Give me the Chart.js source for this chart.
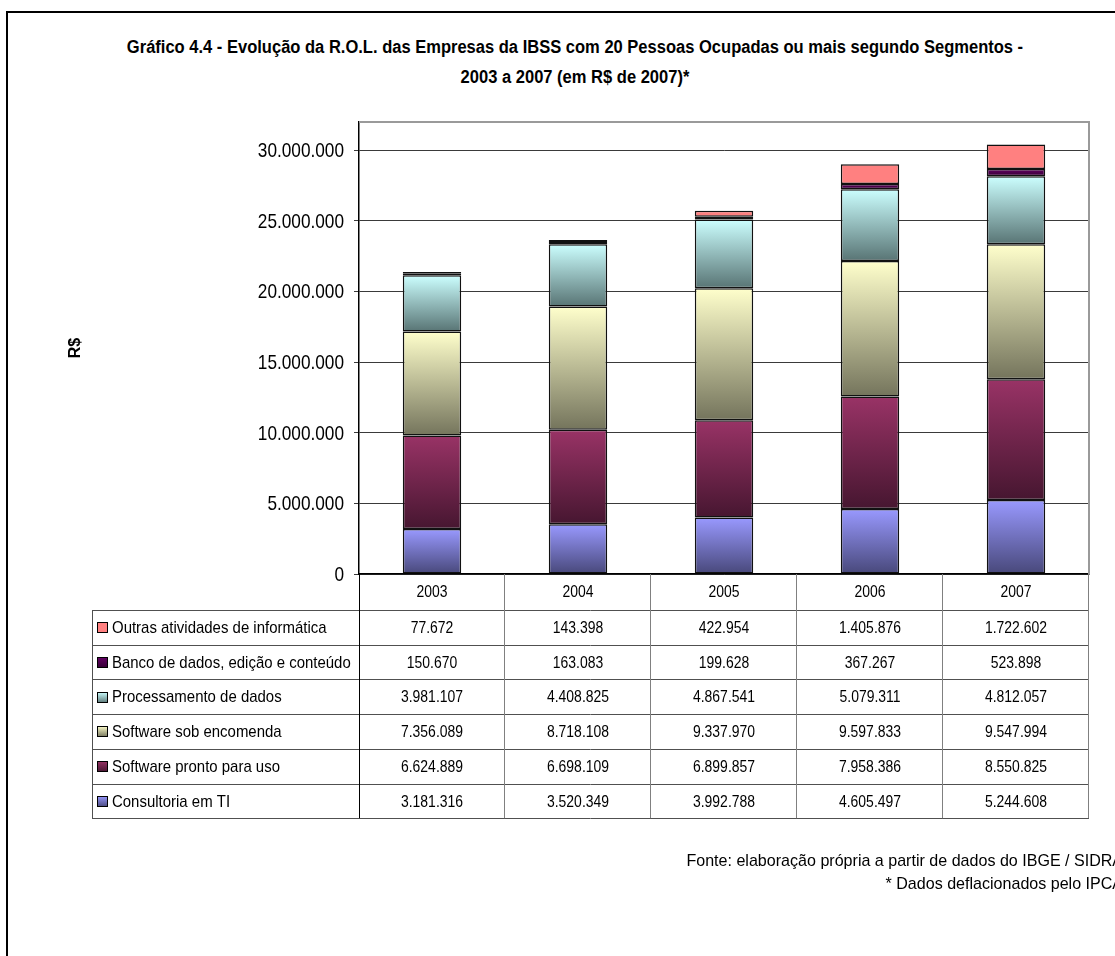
<!DOCTYPE html>
<html>
<head>
<meta charset="utf-8">
<script src="https://cdn.jsdelivr.net/npm/chart.js@4.4.0/dist/chart.umd.min.js"></script>
<style>
  html, body { margin: 0; padding: 0; width: 1115px; height: 956px; overflow: hidden; background: #fff; }
  #frame { position: absolute; left: 6px; top: 11px; width: 1200px; height: 1100px; border: 2px solid #000; }
  #title { position: absolute; left: 0; top: 32px; width: 1150px; text-align: center;
    transform: scaleX(0.918); transform-origin: 575px 0;
    font: bold 18px/30px 'Liberation Sans', Arial, sans-serif; color: #000; }
  #fonte { position: absolute; right: -8px; top: 849px; text-align: right; white-space: nowrap;
    transform: scaleX(0.945); transform-origin: 100% 0;
    font: 17px/23px 'Liberation Sans', Arial, sans-serif; color: #000; }
  canvas { position: absolute; left: 0; top: 0; }
</style>
</head>
<body>
<div id="frame"></div>
<div id="title">Gráfico 4.4 - Evolução da R.O.L. das Empresas da IBSS com 20 Pessoas Ocupadas ou mais segundo Segmentos -<br>2003 a 2007 (em R$ de 2007)*</div>
<canvas id="chart" width="1115" height="956"></canvas>
<div id="fonte">Fonte: elaboração própria a partir de dados do IBGE / SIDRA<br>* Dados deflacionados pelo IPCA</div>
<script>
const years = ['2003', '2004', '2005', '2006', '2007'];
const consultoria = [3181316, 3520349, 3992788, 4605497, 5244608];
const prontoUso = [6624889, 6698109, 6899857, 7958386, 8550825];
const sobEncomenda = [7356089, 8718108, 9337970, 9597833, 9547994];
const processamento = [3981107, 4408825, 4867541, 5079311, 4812057];
const bancoDados = [150670, 163083, 199628, 367267, 523898];
const outras = [77672, 143398, 422954, 1405876, 1722602];
const yTicks = [0, 5000000, 10000000, 15000000, 20000000, 25000000, 30000000];

const FONT = "'Liberation Sans', Arial, sans-serif";
const NARROW = 0.82; // no Arial Narrow here, squeeze the regular face

function fmt(n) {
  return String(n).replace(/\B(?=(\d{3})+(?!\d))/g, '.');
}

function narrowText(ctx, text, x, y, align, sx) {
  ctx.save();
  ctx.translate(x, y);
  ctx.scale(sx || NARROW, 1);
  ctx.textAlign = align;
  ctx.fillText(text, 0, 0);
  ctx.restore();
}

// vertical gradient, light on top, dark at the bottom (like the old Excel fills)
function grad(top, bottom) {
  return function(ctx) {
    const chart = ctx.chart;
    const ys = chart.scales.y;
    if (ctx.type !== 'data' || !ys || !chart.chartArea) return top;
    const i = ctx.dataIndex, d = ctx.datasetIndex;
    let start = 0;
    for (let k = 0; k < d; k++) start += chart.data.datasets[k].data[i];
    const end = start + chart.data.datasets[d].data[i];
    const y0 = ys.getPixelForValue(end), y1 = ys.getPixelForValue(start);
    if (!isFinite(y0) || !isFinite(y1) || y0 === y1) return top;
    const g = chart.ctx.createLinearGradient(0, y0, 0, y1);
    g.addColorStop(0, top);
    g.addColorStop(1, bottom);
    return g;
  };
}

const series = [
  { label: 'Consultoria em TI', data: consultoria, top: '#9999ff', bottom: '#48487a' },
  { label: 'Software pronto para uso', data: prontoUso, top: '#993366', bottom: '#461630' },
  { label: 'Software sob encomenda', data: sobEncomenda, top: '#ffffcc', bottom: '#74745c' },
  { label: 'Processamento de dados', data: processamento, top: '#ccffff', bottom: '#587474' },
  { label: 'Banco de dados, edição e conteúdo', data: bancoDados, top: '#660066', bottom: '#330033' },
  { label: 'Outras atividades de informática', data: outras, top: '#ff8080', bottom: '#ff8080' }
];

// y labels, plot frame and the data table under the axis
const tablePlugin = {
  id: 'dataTable',
  afterDraw(chart) {
    const ctx = chart.ctx;
    const area = chart.chartArea;
    const xs = chart.scales.x, ys = chart.scales.y;
    const left = 92, headerBottom = 610, rowH = 34.7, nRows = series.length;
    const bottom = headerBottom + rowH * nRows;
    const colW = (area.right - area.left) / years.length;

    ctx.save();
    // y tick labels
    ctx.fillStyle = '#000';
    ctx.font = '21px ' + FONT;
    ctx.textBaseline = 'middle';
    ys.ticks.forEach(t => {
      narrowText(ctx, fmt(t.value), 344, ys.getPixelForValue(t.value) + 1, 'right');
    });

    // plot area frame (top / right)
    ctx.strokeStyle = '#9a9a9a';
    ctx.lineWidth = 2;
    ctx.beginPath();
    ctx.moveTo(area.left, area.top);
    ctx.lineTo(area.right, area.top);
    ctx.lineTo(area.right, area.bottom);
    ctx.stroke();

    // table grid
    ctx.lineWidth = 1;
    ctx.strokeStyle = '#505050';
    ctx.beginPath();
    for (let r = 0; r <= nRows; r++) {
      const y = Math.round(headerBottom + r * rowH) + 0.5;
      ctx.moveTo(left, y);
      ctx.lineTo(area.right, y);
    }
    ctx.moveTo(left + 0.5, headerBottom);
    ctx.lineTo(left + 0.5, bottom);
    ctx.stroke();

    ctx.strokeStyle = '#808080';
    ctx.beginPath();
    for (let c = 1; c <= years.length; c++) {
      const x = Math.round(area.left + c * colW) - 0.5;
      ctx.moveTo(x, area.bottom);
      ctx.lineTo(x, bottom);
    }
    ctx.stroke();
    ctx.strokeStyle = '#000';
    ctx.beginPath();
    ctx.moveTo(Math.round(area.left) + 0.5, area.bottom);
    ctx.lineTo(Math.round(area.left) + 0.5, bottom);
    ctx.stroke();

    // header: years
    ctx.fillStyle = '#000';
    ctx.font = '17px ' + FONT;
    years.forEach((yr, i) => {
      narrowText(ctx, yr, xs.getPixelForValue(i), (area.bottom + headerBottom) / 2, 'center');
    });

    // rows, top row is the last series
    for (let r = 0; r < nRows; r++) {
      const s = series[nRows - 1 - r];
      const yc = headerBottom + r * rowH + rowH / 2 + 1;
      const kx = 97, ky = Math.round(yc - 6), ks = 11;
      const g = ctx.createLinearGradient(0, ky, 0, ky + ks);
      g.addColorStop(0, s.top);
      g.addColorStop(1, s.bottom);
      ctx.fillStyle = g;
      ctx.fillRect(kx, ky, ks, ks);
      ctx.strokeStyle = '#000';
      ctx.strokeRect(kx + 0.5, ky + 0.5, ks - 1, ks - 1);

      ctx.fillStyle = '#000';
      narrowText(ctx, s.label, 112, yc, 'left', 0.88);
      s.data.forEach((v, i) => {
        narrowText(ctx, fmt(v), xs.getPixelForValue(i), yc, 'center');
      });
    }
    ctx.restore();
  }
};

const ctx = document.getElementById('chart').getContext('2d');
new Chart(ctx, {
  type: 'bar',
  data: {
    labels: years,
    datasets: series.map(s => ({
      label: s.label,
      data: s.data,
      backgroundColor: grad(s.top, s.bottom),
      borderColor: '#111',
      borderWidth: 1.5,
      borderSkipped: false,
      categoryPercentage: 0.8,
      barPercentage: 0.5
    }))
  },
  options: {
    responsive: false,
    animation: false,
    layout: { padding: { left: 50, right: 26, top: 122, bottom: 382 } },
    plugins: {
      legend: { display: false },
      tooltip: { enabled: false },
      title: { display: false }
    },
    scales: {
      x: {
        stacked: true,
        grid: { display: false },
        ticks: { display: false },
        border: { display: true, color: '#000', width: 1.5 },
        afterFit(scale) { scale.height = 0; }
      },
      y: {
        stacked: true,
        min: 0,
        max: 32000000,
        ticks: { display: false },
        afterBuildTicks(scale) {
          scale.ticks = yTicks.map(v => ({ value: v }));
        },
        grid: { color: '#3a3a3a', lineWidth: 1, tickLength: 5, drawTicks: true },
        border: { color: '#000', width: 1.5 },
        title: {
          display: true,
          text: 'R$',
          color: '#000',
          font: { family: FONT, size: 16, weight: 'bold' },
          padding: { top: 16, bottom: 0 }
        },
        afterFit(scale) { scale.width = 309; }
      }
    }
  },
  plugins: [tablePlugin]
});
</script>
</body>
</html>
